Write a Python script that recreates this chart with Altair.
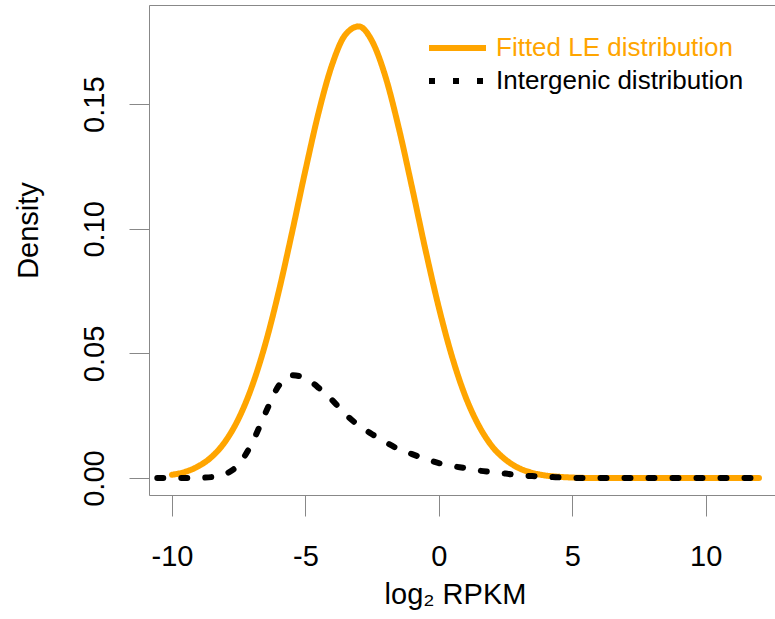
import altair as alt
import pandas as pd

# Fitted LE distribution (orange, solid)
le_x = [-10, -9.5, -9, -8.5, -8, -7.5, -7, -6.5, -6, -5.5, -5, -4.5, -4, -3.5, -3,
        -2.5, -2, -1.5, -1, -0.5, 0, 0.5, 1, 1.5, 2, 2.5, 3, 3.5, 4, 4.5, 5, 6,
        7, 8, 9, 10, 11, 12]
le_y = [0.0013, 0.0025, 0.0048, 0.0086, 0.0147, 0.0239, 0.0368, 0.0538, 0.0747,
        0.0985, 0.1234, 0.1468, 0.1658, 0.1779, 0.1812, 0.1753, 0.1611, 0.1405,
        0.1165, 0.0916, 0.0685, 0.0486, 0.0327, 0.0210, 0.0127, 0.0074, 0.0040,
        0.0021, 0.0010, 0.0005, 0.0002, 0.0000, 0.0, 0.0, 0.0, 0.0, 0.0, 0.0]

# Intergenic distribution (black, dashed)
ig_x = [-10.55, -10, -9.5, -9, -8.5, -8, -7.5, -7, -6.5, -6, -5.5, -5, -4.5, -4,
        -3.5, -3, -2.5, -2, -1.5, -1, -0.5, 0, 0.5, 1, 1.5, 2, 2.5, 3, 3.5, 4,
        4.5, 5, 6, 7, 8, 9, 10, 11, 12]
ig_y = [0.0, 0.0, 0.0, 0.0001, 0.0004, 0.0016, 0.0055, 0.0140, 0.0260, 0.0370,
        0.0413, 0.0400, 0.0362, 0.0313, 0.0256, 0.0211, 0.0176, 0.0144, 0.0116,
        0.0096, 0.0077, 0.0060, 0.0048, 0.0040, 0.0030, 0.0024, 0.0018, 0.0011,
        0.0008, 0.0005, 0.0003, 0.0001, 0.0, 0.0, 0.0, 0.0, 0.0, 0.0, 0.0]

series_names = ["Fitted LE distribution", "Intergenic distribution"]
series_colors = ["#FFA500", "#000000"]
x_ticks = [-10, -5, 0, 5, 10]
y_ticks = [0.0, 0.05, 0.10, 0.15]

le_df = pd.DataFrame({"x": le_x, "y": le_y, "series": series_names[0]})
ig_df = pd.DataFrame({"x": ig_x, "y": ig_y, "series": series_names[1]})

FONT = "Liberation Sans"

x_scale = alt.Scale(domain=[-10.86, 12.6], nice=False, zero=False)
y_scale = alt.Scale(domain=[-0.0068, 0.1898], nice=False, zero=False)

y_axis = alt.Axis(
    values=y_ticks, format=".2f", grid=False, tickSize=20, labelPadding=26,
    labelAngle=270, labelAlign="center", labelBaseline="alphabetic",
    labelFontSize=29, title="Density", titleFontSize=29, titleFontWeight="normal",
    titleX=-112, titleY=225, titleAngle=270, titleAlign="center",
    titleBaseline="alphabetic",
)
x_axis_bottom = alt.Axis(
    values=x_ticks, grid=False, tickSize=21, labelPadding=49,
    labelBaseline="alphabetic", labelFontSize=29, labelExpr="'' + datum.value",
    labelFlush=False, labelOverlap=False,
    title="log₂ RPKM", titleFontSize=29, titleFontWeight="normal",
    titleX=306, titleY=108, titleAlign="center", titleBaseline="alphabetic",
)
x_axis_top = alt.Axis(orient="top", labels=False, ticks=False, grid=False,
                      title=None, domain=True)

legend_def = alt.Legend(
    title=None, orient="none", legendX=277, legendY=30, padding=0,
    symbolType="stroke", symbolSize=3249, symbolStrokeWidth=6,
    clipHeight=26, rowPadding=7, labelOffset=7, labelFontSize=26,
    labelLimit=500, labelFont=FONT,
    labelColor=alt.ExprRef("datum.label == 'Fitted LE distribution' ? '#FFA500' : '#000000'"),
)

color_enc = alt.Color(
    "series:N",
    scale=alt.Scale(domain=series_names, range=series_colors),
    legend=legend_def,
)
dash_enc = alt.StrokeDash(
    "series:N",
    scale=alt.Scale(domain=series_names, range=[[1, 0], [6, 18]]),
    legend=legend_def,
)

le_line = alt.Chart(le_df).mark_line(
    strokeWidth=6, strokeCap="round", interpolate="monotone"
).encode(
    x=alt.X("x:Q", scale=x_scale, axis=x_axis_bottom),
    y=alt.Y("y:Q", scale=y_scale, axis=y_axis),
    color=color_enc,
    strokeDash=dash_enc,
)

ig_line = alt.Chart(ig_df).mark_line(
    strokeWidth=6, strokeCap="round", interpolate="monotone"
).encode(
    x=alt.X("x:Q", scale=x_scale, axis=x_axis_top),
    y=alt.Y("y:Q", scale=y_scale, axis=y_axis),
    color=color_enc,
    strokeDash=dash_enc,
)

chart = alt.layer(le_line, ig_line).resolve_axis(x="independent").properties(
    width=626, height=490,
    autosize=alt.AutoSizeParams(type="none"),
    padding={"left": 149, "top": 5, "right": 0, "bottom": 124},
).configure_view(stroke=None).configure_axis(
    domainColor="#000000", domainWidth=2, tickColor="#000000", tickWidth=1.5,
    labelColor="#000000", titleColor="#000000", labelFont=FONT, titleFont=FONT,
).configure(background="white")

chart.save("out.html", embed_options={"renderer": "svg", "actions": False})
